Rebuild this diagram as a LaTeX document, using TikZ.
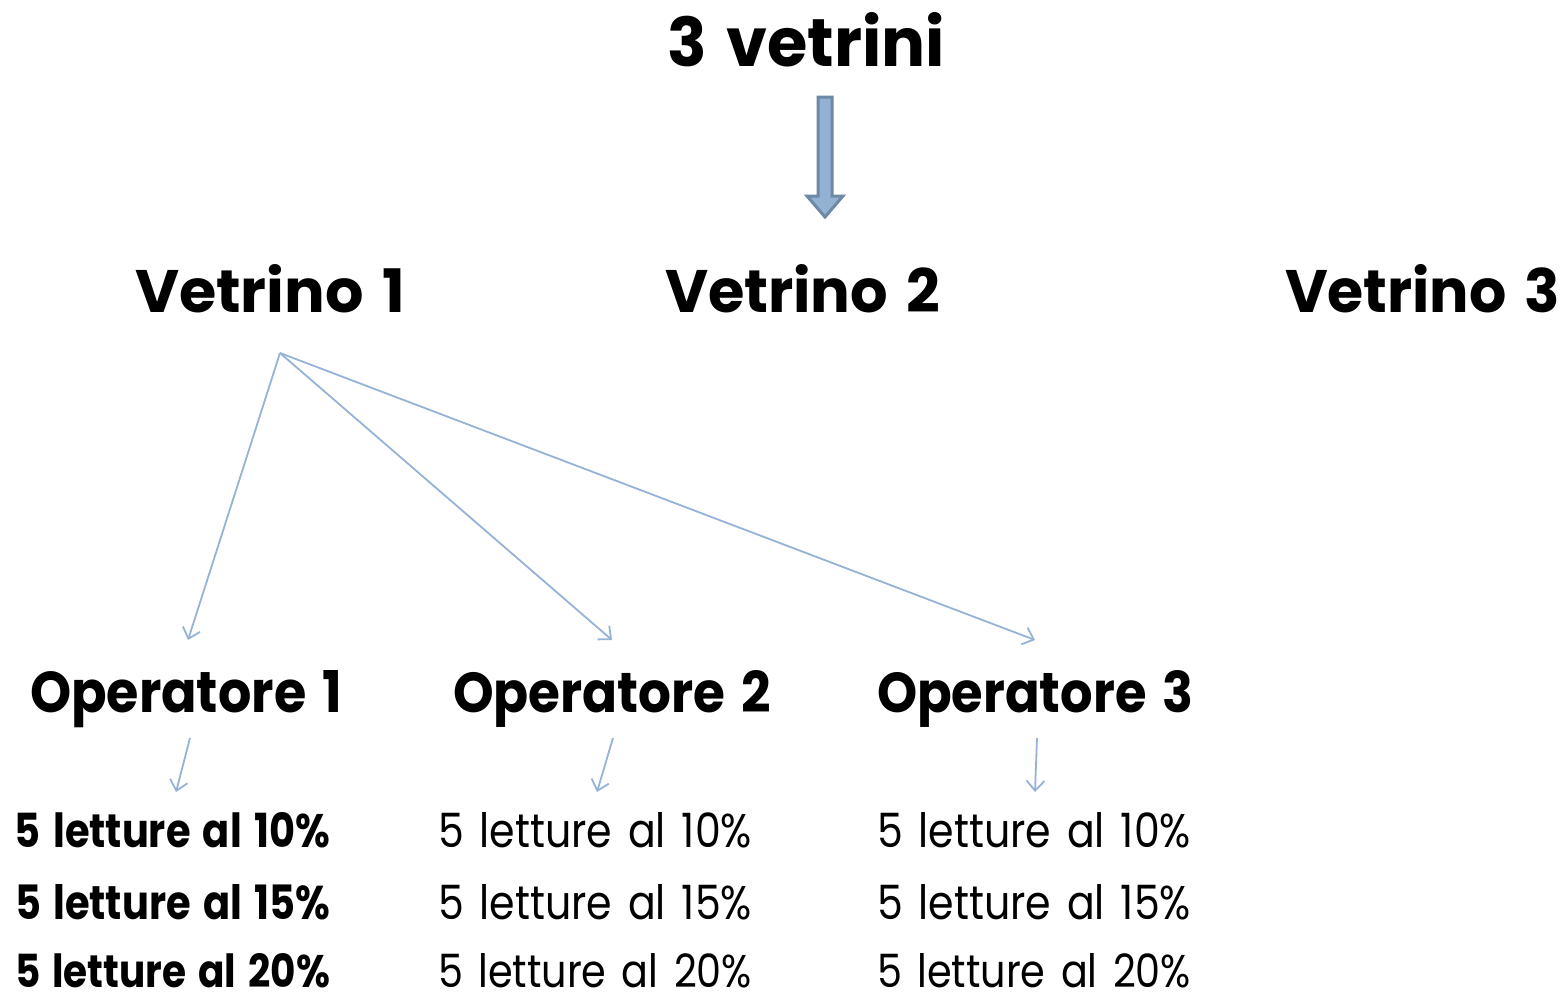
\documentclass[tikz,border=0pt]{standalone}
\usepackage{fontspec}
\setmainfont[WordSpace=1.45]{Poppins}
\usepackage{graphicx}
\usetikzlibrary{arrows.meta}
\definecolor{linkblue}{HTML}{95B3D7}
\definecolor{arrowfill}{HTML}{93B1D3}
\definecolor{arrowedge}{HTML}{6D89A6}
\newcommand{\fitbox}[3]{\resizebox{#1pt}{#2pt}{#3}}
\begin{document}
\begin{tikzpicture}[x=1pt,y=-1pt,
  lbl/.style={anchor=base west,inner sep=0pt,outer sep=0pt},
  link/.style={draw=linkblue,line width=1.8pt,-{Straight Barb[length=10pt,width=18pt]}},
  bigarrow/.style={fill=arrowfill,draw=arrowedge,line width=3pt,line join=miter}]
\useasboundingbox (0,0) rectangle (1565,1004);
% title
\node[lbl] (title) at (667,66) {\fitbox{278}{54}{\bfseries 3 vetrini}};
% block arrow
\draw[bigarrow] (818,97) -- (832,97) -- (832,196) -- (843,196) -- (825,217) -- (807,196) -- (818,196) -- cycle;
% vetrini
\node[lbl] (v1) at (135,312) {\fitbox{270}{48}{\bfseries Vetrino 1}};
\node[lbl] (v2) at (665,312) {\fitbox{275}{48}{\bfseries Vetrino 2}};
\node[lbl] (v3) at (1285,312) {\fitbox{275}{48}{\bfseries Vetrino 3}};
% operatori
\node[lbl] (o1) at (30,712) {\fitbox{312}{42}{\bfseries Operatore 1}};
\node[lbl] (o2) at (453,712) {\fitbox{318}{42}{\bfseries Operatore 2}};
\node[lbl] (o3) at (877,712) {\fitbox{316}{42}{\bfseries Operatore 3}};
% connectors
\coordinate (v1out) at (280,353);
\coordinate (o1in) at (188,640);
\coordinate (o2in) at (612,640);
\coordinate (o3in) at (1035,640);
\draw[link] (v1out) -- (o1in);
\draw[link] (v1out) -- (o2in);
\draw[link] (v1out) -- (o3in);
\coordinate (o1out) at (190,738);
\coordinate (o2out) at (613,738);
\coordinate (o3out) at (1037,738);
\coordinate (r1in) at (176,792);
\coordinate (r2in) at (597,792);
\coordinate (r3in) at (1035,792);
\draw[link] (o1out) -- (r1in);
\draw[link] (o2out) -- (r2in);
\draw[link] (o3out) -- (r3in);
% rows
\node[lbl] (a1) at (15,847) {\fitbox{315}{35}{\bfseries 5 letture al 10\%}};
\node[lbl] (a2) at (15,919) {\fitbox{315}{35}{\bfseries 5 letture al 15\%}};
\node[lbl] (a3) at (15,987) {\fitbox{315}{34}{\bfseries 5 letture al 20\%}};
\node[lbl] (b1) at (438,847) {\fitbox{314}{35}{5 letture al 10\%}};
\node[lbl] (b2) at (438,919) {\fitbox{314}{35}{5 letture al 15\%}};
\node[lbl] (b3) at (438,987) {\fitbox{314}{34}{5 letture al 20\%}};
\node[lbl] (c1) at (877,847) {\fitbox{314}{35}{5 letture al 10\%}};
\node[lbl] (c2) at (877,919) {\fitbox{314}{35}{5 letture al 15\%}};
\node[lbl] (c3) at (877,987) {\fitbox{314}{34}{5 letture al 20\%}};
\end{tikzpicture}
\end{document}
